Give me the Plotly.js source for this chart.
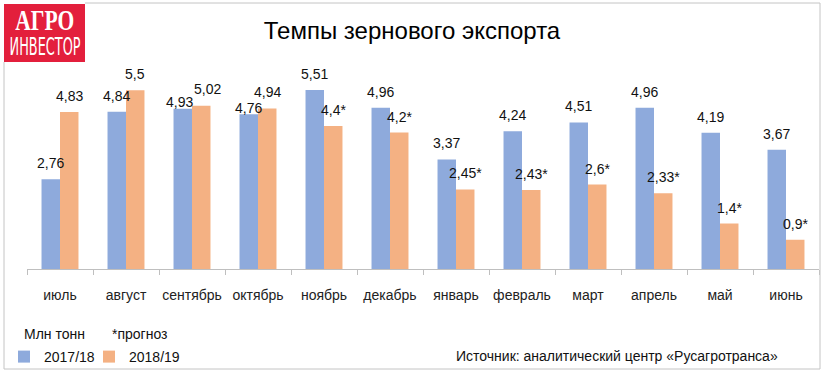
<!DOCTYPE html>
<html>
<head>
<meta charset="utf-8">
<script src="https://cdn.plot.ly/plotly-3.0.1.min.js"></script>
<style>html,body{margin:0;padding:0;background:#fff;}#chart{width:829px;height:377px;}</style>
</head>
<body>
<div id="chart"></div>
<script>
const months = ['июль','август','сентябрь','октябрь','ноябрь','декабрь','январь','февраль','март','апрель','май','июнь'];
const v1718 = [2.76,4.84,4.93,4.76,5.51,4.96,3.37,4.24,4.51,4.96,4.19,3.67];
const v1819 = [4.83,5.5,5.02,4.94,4.4,4.2,2.45,2.43,2.6,2.33,1.4,0.9];
const forecast1819 = [false,false,false,false,true,true,true,true,true,true,true,true];
const seriesNames = ['2017/18','2018/19'];

const FONT = 'Liberation Sans, Arial, sans-serif';
const W = 829, H = 377;
const L = 27, R = 819, T = 74, B = 269;
const px = p => (p - L) / (R - L);
const py = p => (B - p) / (B - T);
const fmt = (v, star) => String(v).replace('.', ',') + (star ? '*' : '');

const blue = '#8eaadc', orange = '#f4b183';

// label placement tweaks (pixels) where the original moved labels apart to avoid overlaps
const nudgeBlue = {2:[-3, 7], 3:[0, 6]};
const nudgeOrange = {2:[6.5, 17], 3:[0, 16]};

const traces = [
  {type:'bar', name:seriesNames[0], x:months, y:v1718, marker:{color:blue, line:{width:0}}, hoverinfo:'none', legend:'legend'},
  {type:'bar', name:seriesNames[1], x:months, y:v1819, marker:{color:orange, line:{width:0}}, hoverinfo:'none', legend:'legend2'}
];

const ann = [];
months.forEach((m, i) => {
  const nb = nudgeBlue[i] || [0, 16];
  const no = nudgeOrange[i] || [0, 16];
  ann.push({x:m, y:v1718[i], xref:'x', yref:'y', text:fmt(v1718[i], false), showarrow:false,
    xshift:-9.25 + nb[0], yshift:nb[1], xanchor:'center', yanchor:'middle', font:{family:FONT, size:14, color:'#111'}});
  ann.push({x:m, y:v1819[i], xref:'x', yref:'y', text:fmt(v1819[i], forecast1819[i]), showarrow:false,
    xshift:9.25 + no[0], yshift:no[1], xanchor:'center', yanchor:'middle', font:{family:FONT, size:14, color:'#111'}});
});

// logo
ann.push({xref:'paper', yref:'paper', x:px(44.5), y:py(20), text:'<b>АГРО</b>', showarrow:false,
  xanchor:'center', yanchor:'middle', font:{family:'Liberation Serif, DejaVu Serif, serif', size:29, color:'#fff'}});
ann.push({xref:'paper', yref:'paper', x:px(44.5), y:py(46), text:'ИНВЕСТОР', showarrow:false,
  xanchor:'center', yanchor:'middle', font:{family:'Liberation Sans Narrow, DejaVu Sans Condensed, Arial Narrow, sans-serif', size:25, color:'#fff'}});

// footer texts
ann.push({xref:'paper', yref:'paper', x:px(22), y:py(334), text:'Млн тонн', showarrow:false,
  xanchor:'left', yanchor:'middle', font:{family:FONT, size:14, color:'#111'}});
ann.push({xref:'paper', yref:'paper', x:px(110), y:py(334), text:'*прогноз', showarrow:false,
  xanchor:'left', yanchor:'middle', font:{family:FONT, size:14, color:'#111'}});
ann.push({xref:'paper', yref:'paper', x:px(454), y:py(356), text:'Источник: аналитический центр «Русагротранса»', showarrow:false,
  xanchor:'left', yanchor:'middle', font:{family:FONT, size:14, color:'#111'}});

const shapes = [
  {type:'rect', xref:'paper', yref:'paper', x0:px(4), x1:px(85), y0:py(62), y1:py(4), fillcolor:'#e31f3c', line:{width:0}, layer:'below'},
  {type:'path', xref:'paper', yref:'paper',
   path:`M${px(4)},${py(62)} L${px(4)},${py(369)} L${px(820)},${py(369)} L${px(820)},${py(3)} L${px(85)},${py(3)}`,
   line:{color:'#c4c4c4', width:1}}
];

const legendBase = {orientation:'h', xref:'container', yref:'container', y:1-357/H, xanchor:'left', yanchor:'middle',
  font:{family:FONT, size:14, color:'#111'}, bgcolor:'rgba(0,0,0,0)', itemclick:false, borderwidth:0};

const layout = {
  width:W, height:H,
  margin:{l:L, r:W-R, t:T, b:H-B, pad:0},
  paper_bgcolor:'#fff', plot_bgcolor:'#fff',
  font:{family:FONT, size:14, color:'#111'},
  title:{text:'Темпы зернового экспорта', xref:'container', yref:'container', x:0.497, y:1-31/H,
    xanchor:'center', yanchor:'middle', font:{family:FONT, size:24, color:'#000'}},
  barmode:'group', bargap:0.44, bargroupgap:0,
  xaxis:{type:'category', tickson:'boundaries', ticks:'outside', ticklen:5, tickcolor:'#bfbfbf',
    showline:true, linecolor:'#bfbfbf', linewidth:1, showgrid:false, zeroline:false, tickangle:0,
    ticklabelstandoff:13, tickfont:{family:FONT, size:14, color:'#222'}, fixedrange:true},
  yaxis:{range:[0,6], visible:false, showgrid:false, zeroline:false, fixedrange:true},
  showlegend:true,
  legend:Object.assign({}, legendBase, {x:4/W}),
  legend2:Object.assign({}, legendBase, {x:89/W}),
  annotations:ann,
  shapes:shapes
};

Plotly.newPlot('chart', traces, layout, {displayModeBar:false, staticPlot:true}).then(gd => {
  // squeeze logo words horizontally to the logo's condensed proportions
  const targets = {'АГРО':59, 'ИНВЕСТОР':71};
  gd.querySelectorAll('.annotation-text').forEach(t => {
    const s = (t.textContent || '').trim();
    if (targets[s]) {
      const bb = t.getBBox();
      const sx = Math.min(1, targets[s] / bb.width);
      const cx = bb.x + bb.width / 2;
      t.setAttribute('transform', `translate(${cx},0) scale(${sx},1) translate(${-cx},0)`);
    }
  });
});
</script>
</body>
</html>
